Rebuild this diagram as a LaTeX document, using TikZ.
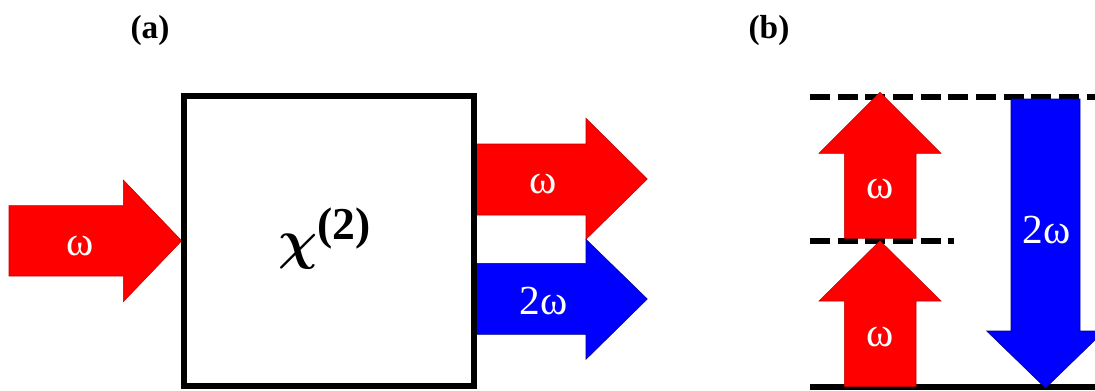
\documentclass[tikz,border=0pt]{standalone}
\usepackage{fontspec}
\usepackage{amsmath}
\setmainfont{Liberation Serif}
\begin{document}
\begin{tikzpicture}[x=0.75pt,y=-0.75pt,
 redarrow/.style={fill=red, draw=red!75!black, line width=0.4pt},
 bluearrow/.style={fill=blue, draw=blue!55!black, line width=0.4pt},
 lab/.style={text=white, font=\fontsize{31}{34}\selectfont, inner sep=0pt},
 panel/.style={font=\fontsize{25}{28}\selectfont\bfseries, inner sep=0pt},
 level/.style={line width=4.5pt, dash pattern=on 15pt off 5.75pt},
 crystal/.style={draw, line width=4.5pt, minimum width=217.5pt, minimum height=217.5pt, inner sep=0pt}]
\useasboundingbox (0,0) rectangle (1095,390);
% panel labels
\node[panel] (pa) at (150,30) {(a)};
\node[panel] (pb) at (769,30) {(b)};
% (a) arrows
\draw[redarrow] (9,205.7) -- (123.3,205.7) -- (123.3,180) -- (181.7,240.8) -- (123.3,301.7) -- (123.3,276) -- (9,276) -- cycle;
\node[lab] (win) at (80,246) {ω};
\draw[redarrow] (476.7,144) -- (586,144) -- (586,118.3) -- (647.3,179) -- (586,239.3) -- (586,215) -- (476.7,215) -- cycle;
\node[lab] (wout) at (543,184) {ω};
\draw[bluearrow] (476.7,263.3) -- (586,263.3) -- (586,239.3) -- (647.3,299) -- (586,359.3) -- (586,334.3) -- (476.7,334.3) -- cycle;
\node[lab] (w2out) at (543.3,300.8) {2ω};
% crystal
\node[crystal] (box) at (328.7,241.4) {};
\node[inner sep=0pt] (chi) at (325,238.5) {\scalebox{1.65}{\fontsize{24.88}{28}\selectfont $\boldsymbol{\chi}^{\text{\bfseries(2)}}$}};
% (b) levels
\coordinate (t0) at (810,96.7);
\coordinate (t1) at (1100,96.7);
\coordinate (m0) at (810,240.7);
\coordinate (m1) at (954,240.7);
\coordinate (g0) at (810,386.7);
\coordinate (g1) at (1100,386.7);
\draw[level] (t0) -- (t1);
\draw[level] (m0) -- (m1);
\draw[line width=4.5pt] (g0) -- (g1);
% (b) arrows
\draw[redarrow] (844.3,386.7) -- (844.3,301) -- (819,301) -- (880,240.7) -- (941,301) -- (916,301) -- (916,386.7) -- cycle;
\node[lab] (wlow) at (880.5,337.5) {ω};
\draw[redarrow] (844.3,238.3) -- (844.3,153.3) -- (819,153.3) -- (880,92.3) -- (941,153.3) -- (916,153.3) -- (916,238.3) -- cycle;
\node[lab] (wup) at (880.5,189) {ω};
\draw[bluearrow] (1011,99) -- (1080,99) -- (1080,331) -- (1104.3,331) -- (1045.5,388) -- (986.7,331) -- (1011,331) -- cycle;
\node[lab] (w2) at (1046.7,229.7) {2ω};
\end{tikzpicture}
\end{document}
